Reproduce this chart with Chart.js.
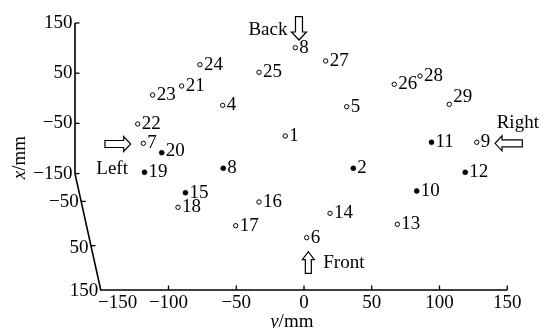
<!DOCTYPE html>
<html><head><meta charset="utf-8">
<script src="https://cdn.jsdelivr.net/npm/chart.js@4/dist/chart.umd.min.js"></script>
<style>html,body{margin:0;padding:0;background:#fff}canvas{display:block}</style>
</head><body>
<canvas id="c" width="544" height="328"></canvas>
<script>
// ---- data (horizontal: y/mm ; vertical: projected x/mm axis value) ----
const hollowLabels = ['1','4','5','6','7','8','9','13','14','16','17','18','21','22','23','24','25','26','27','28','29'];
const hollowY      = [-13.8,-60.0,31.5,2.0,-118.6,-6.4,127.5,68.9,19.2,-33.2,-50.4,-93.0,-90.3,-122.7,-111.7,-76.8,-33.2,66.6,16.0,85.6,107.2];
const hollowV      = [-75.1,-14.0,-16.8,-277.8,-89.7,100.8,-87.7,-251.1,-229.2,-206.6,-253.9,-217.2,24.5,-51.2,6.5,66.9,51.8,27.9,74.3,44.4,-12.0];

const filledLabels = ['2','8','10','11','12','15','19','20'];
const filledY      = [36.4,-59.6,83.2,94.1,119.0,-87.5,-117.7,-105.0];
const filledV      = [-139.5,-139.5,-184.7,-87.7,-147.5,-188.1,-147.5,-108.4];

const bottomTicks   = [-150,-100,-50,0,50,100,150];
const verticalTicks = [150,50,-50,-150];
const slantTicks    = [-50,50,150];

// annotation texts (positions in data units)
const notes = [
  {text:'Back',  x:-12.2, v:126.1, align:'right'},
  {text:'Front', x:14.2,  v:-338.7, align:'left'},
  {text:'Left',  x:-153.3,v:-150.9, align:'left'},
  {text:'Right', x:142.2, v:-59.8,  align:'left'}
];
const arrows = [
  {x1:-3.7,  v1:162.6,  x2:-3.7,  v2:116.1, shaft:7, head:15, headLen:8},
  {x1:3.2,   v1:-348.7, x2:3.2,   v2:-305.7, shaft:6, head:12, headLen:8},
  {x1:-146.9,v1:-91.1,  x2:-127.9,v2:-91.1, shaft:7, head:15, headLen:7},
  {x1:161.1, v1:-89.7,  x2:141.0, v2:-89.7, shaft:7, head:15, headLen:7}
];

const FAM = '"Liberation Serif","Times New Roman",serif';
const FS = 19;
const labelShift = {'29': -7, '20': -2};
const fmt = v => v < 0 ? '\u2212' + Math.abs(v) : String(v);
const slantV = t => -382 + (150 - t) * 0.8827;

function drawArrow(ctx, ax, ay, bx, by, shaft, head, headLen){
  const dx = bx-ax, dy = by-ay, L = Math.hypot(dx,dy);
  ctx.save();
  ctx.translate(ax, ay);
  ctx.rotate(Math.atan2(dy,dx));
  const s = shaft/2, h = head/2, b = L - headLen;
  ctx.beginPath();
  ctx.moveTo(0,-s); ctx.lineTo(b,-s); ctx.lineTo(b,-h); ctx.lineTo(L,0);
  ctx.lineTo(b,h); ctx.lineTo(b,s); ctx.lineTo(0,s); ctx.closePath();
  ctx.fillStyle='#fff'; ctx.fill();
  ctx.lineWidth=1.2; ctx.strokeStyle='#000'; ctx.stroke();
  ctx.restore();
}

const axesPlugin = {
  id:'axesPlugin',
  afterDraw(chart){
    const ctx = chart.ctx, xs = chart.scales.x, ys = chart.scales.y;
    const X0 = xs.left;
    const yTop = ys.getPixelForValue(150), yMid = ys.getPixelForValue(-150), yBot = ys.getPixelForValue(ys.min);
    const xCorner = xs.getPixelForValue(-150), xEnd = xs.getPixelForValue(150);
    ctx.save();
    ctx.strokeStyle='#000'; ctx.lineWidth=1.6; ctx.lineJoin='miter';
    ctx.beginPath();
    ctx.moveTo(X0, yTop); ctx.lineTo(X0, yMid); ctx.lineTo(xCorner, yBot); ctx.lineTo(xEnd, yBot);
    ctx.stroke();
    ctx.lineWidth=1.3;
    // vertical axis ticks
    verticalTicks.forEach(t=>{
      const p = ys.getPixelForValue(t);
      ctx.beginPath(); ctx.moveTo(X0,p); ctx.lineTo(X0+4.5,p); ctx.stroke();
    });
    // bottom ticks
    bottomTicks.forEach(t=>{
      if (t === -150) return;
      const p = xs.getPixelForValue(t);
      ctx.beginPath(); ctx.moveTo(p,yBot); ctx.lineTo(p,yBot-4.5); ctx.stroke();
    });
    // slant axis ticks + labels
    ctx.font = FS+'px '+FAM; ctx.fillStyle='#000';
    ctx.textAlign='right'; ctx.textBaseline='middle';
    slantTicks.forEach(t=>{
      const p = ys.getPixelForValue(slantV(t));
      const sx = X0 + (p-yMid)/(yBot-yMid)*(xCorner-X0);
      if (t !== 150){ ctx.beginPath(); ctx.moveTo(sx,p); ctx.lineTo(sx+4.5,p); ctx.stroke(); }
      ctx.fillText(fmt(t), sx-2.5, p + (t===50?2:1));
    });
    // shifted -150 bottom label
    ctx.textAlign='center';
    ctx.fillText(fmt(-150), xs.getPixelForValue(-137.5), yBot + 2 + FS*0.6);
    // point labels
    ctx.textAlign='left'; ctx.textBaseline='middle';
    const sets = [hollowLabels, filledLabels];
    chart.data.datasets.forEach((ds,i)=>{
      const meta = chart.getDatasetMeta(i);
      meta.data.forEach((el,j)=>{
        const lab = sets[i][j];
        ctx.fillText(lab, el.x+4, el.y + (labelShift[lab]||0));
      });
    });
    // notes
    ctx.textBaseline='alphabetic';
    notes.forEach(n=>{
      ctx.textAlign = n.align;
      ctx.fillText(n.text, xs.getPixelForValue(n.x), ys.getPixelForValue(n.v));
    });
    // arrows
    arrows.forEach(a=>{
      drawArrow(ctx, xs.getPixelForValue(a.x1), ys.getPixelForValue(a.v1),
                xs.getPixelForValue(a.x2), ys.getPixelForValue(a.v2), a.shaft, a.head, a.headLen);
    });
    // axis titles with italic variable
    function mixed(cx, cy, it, rest){
      ctx.font = 'italic '+FS+'px '+FAM;
      const w1 = ctx.measureText(it).width;
      ctx.font = FS+'px '+FAM;
      const w2 = ctx.measureText(rest).width;
      const x0 = cx - (w1+w2)/2;
      ctx.textAlign='left'; ctx.textBaseline='alphabetic';
      ctx.font = 'italic '+FS+'px '+FAM; ctx.fillText(it, x0, cy);
      ctx.font = FS+'px '+FAM; ctx.fillText(rest, x0+w1, cy);
    }
    mixed(xs.getPixelForValue(-9), yBot+36.5, 'y', '/mm');
    ctx.save();
    ctx.translate(25, (yTop+yBot)/2 + 1);
    ctx.rotate(-Math.PI/2);
    mixed(0, 0, 'x', '/mm');
    ctx.restore();
    ctx.restore();
  }
};

const tickFont = {family:FAM, size:FS};
new Chart(document.getElementById('c'), {
  type:'scatter',
  data:{datasets:[
    {label:'hollow', data: hollowY.map((y,i)=>({x:y, y:hollowV[i]})),
     pointRadius:2.2, pointHoverRadius:2.2, pointBackgroundColor:'#fff', pointBorderColor:'#000', pointBorderWidth:1},
    {label:'filled', data: filledY.map((y,i)=>({x:y, y:filledV[i]})),
     pointRadius:2.5, pointHoverRadius:2.5, pointBackgroundColor:'#000', pointBorderColor:'#000', pointBorderWidth:0.5}
  ]},
  options:{
    responsive:false, animation:false, devicePixelRatio:1,
    clip:false,
    layout:{padding:{top:23, right:36.75, left:0, bottom:0}},
    plugins:{legend:{display:false}, tooltip:{enabled:false}},
    events:[],
    scales:{
      x:{type:'linear', min:-169, max:150,
         afterBuildTicks: s => { s.ticks = bottomTicks.map(v=>({value:v})); },
         afterFit: s => { s.height = 38; },
         grid:{display:false, drawTicks:false}, border:{display:false},
         ticks:{autoSkip:false, maxRotation:0, padding:2, color:'#000', font:tickFont,
                callback: v => v === -150 ? '' : fmt(v)}},
      y:{type:'linear', min:-382, max:150,
         afterBuildTicks: s => { s.ticks = verticalTicks.map(v=>({value:v})); },
         afterFit: s => { s.width = 75; },
         grid:{display:false, drawTicks:false}, border:{display:false},
         ticks:{autoSkip:false, padding:2.5, color:'#000', font:tickFont,
                callback: v => fmt(v)}}
    }
  },
  plugins:[axesPlugin]
});
</script>
</body></html>
